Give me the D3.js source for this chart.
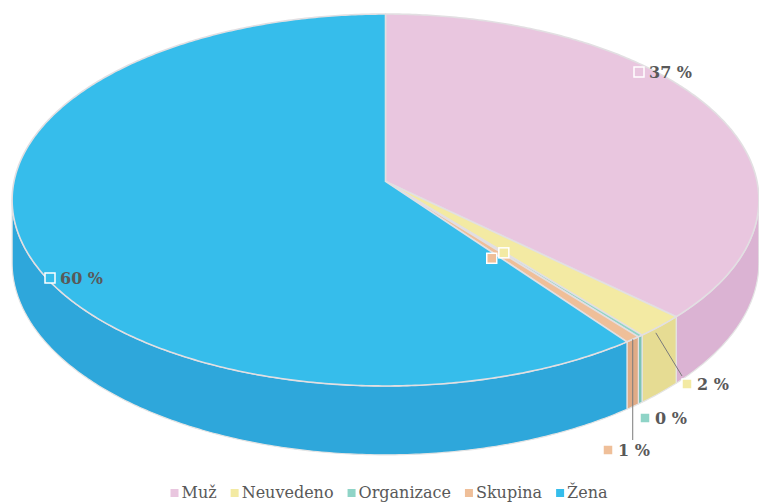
<!DOCTYPE html>
<html>
<head>
<meta charset="utf-8">
<script src="https://cdn.jsdelivr.net/npm/d3@7"></script>
<style>
  body { margin: 0; background: #fff; }
  svg { display: block; }
</style>
</head>
<body>
<div id="chart"></div>
<script>
// data
const categories = ['Muž', 'Neuvedeno', 'Organizace', 'Skupina', 'Žena'];
const values = [37.0, 2.0, 0.2, 0.6, 60.2];
const topColors = ['#e9c6df', '#f3eaa3', '#8fd4c7', '#efbf99', '#36bdeb'];
const sideColors = ['#dbb3d3', '#e6dc93', '#7cc4b6', '#e0ab86', '#2ea7db'];

// where each percent label sits (marker centre)
const labelPos = [
    { x: 639, y: 72 },
    { x: 687, y: 384 },
    { x: 645, y: 418 },
    { x: 608, y: 450 },
    { x: 50, y: 278 }
];

const width = 759, height = 504;
const cx = 385.5, cy = 181.4;   // apex of the pie
const rx = 371.5, ry = 184.1;   // ellipse radii
const persp = 0.1;              // small perspective, front looks bigger
const depth = 62;

const svg = d3.select('#chart').append('svg')
    .attr('width', width)
    .attr('height', height);

const pie = d3.pie().sort(null).value(d => d);
const arcs = pie(values);

// angle clockwise from 12 o'clock, r 0..1, z 0 = top face, 1 = bottom
function proj(a, r, z) {
    const u = r * Math.sin(a), v = -r * Math.cos(a);
    const s = 1 / (1 - persp * v);
    return [cx + rx * u * s, cy + ry * v * s + z * depth * s];
}

function arcPoints(a0, a1, z) {
    const n = Math.max(2, Math.ceil((a1 - a0) / 0.01));
    const pts = [];
    for (let i = 0; i <= n; i++) pts.push(proj(a0 + (a1 - a0) * i / n, 1, z));
    return pts;
}

const line = d3.line();

// front walls, only the part facing us
const sil0 = Math.acos(-persp), sil1 = 2 * Math.PI - Math.acos(-persp);
const walls = svg.append('g');
arcs.forEach((d, i) => {
    const a0 = Math.max(d.startAngle, sil0), a1 = Math.min(d.endAngle, sil1);
    if (a1 <= a0) return;
    const pts = arcPoints(a0, a1, 0).concat(arcPoints(a0, a1, 1).reverse());
    walls.append('path')
        .attr('d', line(pts) + 'Z')
        .attr('fill', sideColors[i])
        .attr('stroke', '#e4e4e4')
        .attr('stroke-width', 1.2)
        .attr('stroke-linejoin', 'round');
});

// top faces
const tops = svg.append('g');
arcs.forEach((d, i) => {
    const pts = [proj(0, 0, 0)].concat(arcPoints(d.startAngle, d.endAngle, 0));
    tops.append('path')
        .attr('d', line(pts) + 'Z')
        .attr('fill', topColors[i])
        .attr('stroke', '#e2dfe2')
        .attr('stroke-width', 1.6)
        .attr('stroke-linejoin', 'round');
});

// leader lines for the two small slices on the right
const mid = d => (d.startAngle + d.endAngle) / 2;
const p1 = proj(mid(arcs[1]), 1, 0.1);
svg.append('line')
    .attr('x1', p1[0] - 4).attr('y1', p1[1])
    .attr('x2', labelPos[1].x - 5).attr('y2', labelPos[1].y - 8)
    .attr('stroke', '#7a7a7a').attr('stroke-width', 1);
const p3 = proj(mid(arcs[3]), 1, 0);
svg.append('line')
    .attr('x1', p3[0]).attr('y1', p3[1])
    .attr('x2', p3[0]).attr('y2', labelPos[3].y - 10)
    .attr('stroke', '#7a7a7a').attr('stroke-width', 1);

// stray markers near the centre (as in the original)
[1, 3].forEach(i => {
    const p = proj(mid(arcs[i]), 0.45, 0);
    svg.append('rect')
        .attr('x', p[0] - 5).attr('y', p[1] + 4)
        .attr('width', 10).attr('height', 10)
        .attr('fill', topColors[i])
        .attr('stroke', '#fff').attr('stroke-width', 1.5);
});

// percent labels
const labels = svg.append('g');
arcs.forEach((d, i) => {
    const g = labels.append('g').attr('transform', `translate(${labelPos[i].x},${labelPos[i].y})`);
    g.append('rect')
        .attr('x', -5).attr('y', -5)
        .attr('width', 10).attr('height', 10)
        .attr('fill', topColors[i])
        .attr('stroke', '#fff').attr('stroke-width', 1.5);
    g.append('text')
        .attr('x', 10).attr('y', 6)
        .attr('font-family', 'DejaVu Serif')
        .attr('font-weight', 'bold')
        .attr('font-size', 16)
        .attr('fill', '#595959')
        .text(Math.round(d.data) + ' %');
});

// legend
const legend = svg.append('g');
let lx = 0;
categories.forEach((c, i) => {
    const item = legend.append('g').attr('transform', `translate(${lx},0)`);
    item.append('rect')
        .attr('x', 0).attr('y', -9)
        .attr('width', 8).attr('height', 8)
        .attr('fill', topColors[i]);
    const t = item.append('text')
        .attr('x', 11).attr('y', 0)
        .attr('font-family', 'DejaVu Serif')
        .attr('font-size', 16)
        .attr('fill', '#595959')
        .text(c);
    lx += 11 + t.node().getComputedTextLength() + 14;
});
lx -= 14;
legend.attr('transform', `translate(${(389 - lx / 2).toFixed(1)},498)`);
</script>
</body>
</html>
